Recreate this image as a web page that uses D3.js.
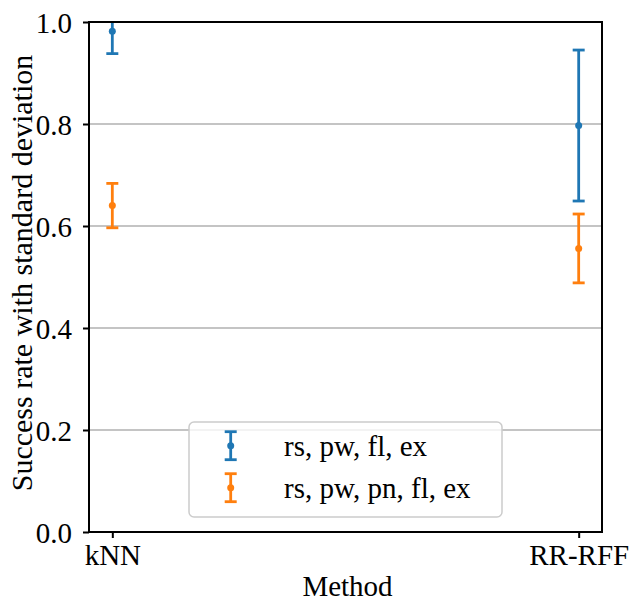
<!DOCTYPE html>
<html>
<head>
<meta charset="utf-8">
<script src="https://cdn.jsdelivr.net/npm/d3@7"></script>
<style>
  html, body { margin: 0; padding: 0; background: #fff; }
  svg { display: block; }
  text { font-family: "Liberation Serif", "Times New Roman", serif; fill: #000; }
</style>
</head>
<body>
<svg id="chart" width="631" height="601"></svg>
<script>
// ---- data ----
const methods = ["kNN", "RR-RFF"];
const seriesNames = ["rs, pw, fl, ex", "rs, pw, pn, fl, ex"];
const seriesColors = ["#1f77b4", "#ff7f0e"];
const meansA = [0.982, 0.797];
const stdsA = [0.044, 0.148];
const meansB = [0.640, 0.556];
const stdsB = [0.0435, 0.0675];
const yTicks = [0.0, 0.2, 0.4, 0.6, 0.8, 1.0];
const xLabel = "Method";
const yLabel = "Success rate with standard deviation";

const series = [
  { name: seriesNames[0], color: seriesColors[0], means: meansA, stds: stdsA },
  { name: seriesNames[1], color: seriesColors[1], means: meansB, stds: stdsB }
];

// ---- layout ----
const L = 89, R = 602, T = 22, B = 532;
const FS = 29;
const svg = d3.select("#chart");

const x = d3.scalePoint().domain(methods).range([L, R]).padding(0.05);
const y = d3.scaleLinear().domain([0, 1]).range([B, T]);

svg.append("defs").append("clipPath").attr("id", "clip")
  .append("rect").attr("x", L).attr("y", T).attr("width", R - L).attr("height", B - T);

// grid
svg.append("g").selectAll("line").data(yTicks).join("line")
  .attr("x1", L).attr("x2", R)
  .attr("y1", d => y(d)).attr("y2", d => y(d))
  .attr("stroke", "#b0b0b0").attr("stroke-width", 1.6);

// error bars
const plot = svg.append("g").attr("clip-path", "url(#clip)");
const capW = 6;
series.forEach(s => {
  const g = plot.append("g");
  methods.forEach((m, i) => {
    const cx = x(m);
    const lo = s.means[i] - s.stds[i];
    const hi = s.means[i] + s.stds[i];
    g.append("line").attr("x1", cx).attr("x2", cx)
      .attr("y1", y(lo)).attr("y2", y(hi))
      .attr("stroke", s.color).attr("stroke-width", 2.8);
    [lo, hi].forEach(v => {
      g.append("line").attr("x1", cx - capW).attr("x2", cx + capW)
        .attr("y1", y(v)).attr("y2", y(v))
        .attr("stroke", s.color).attr("stroke-width", 2.8);
    });
    g.append("circle").attr("cx", cx).attr("cy", y(s.means[i])).attr("r", 3.5)
      .attr("fill", s.color);
  });
});

// axes
const yAxis = d3.axisLeft(y).tickValues(yTicks).tickFormat(d3.format(".1f")).tickSize(6).tickPadding(6);
const gy = svg.append("g").attr("transform", `translate(${L},0)`).call(yAxis);
gy.select(".domain").remove();
gy.selectAll(".tick line").attr("stroke", "#000").attr("stroke-width", 2);
gy.selectAll(".tick text").attr("x", 72 - L).attr("dy", null).attr("y", 10)
  .style("font-size", FS + "px").style("font-family", "Liberation Serif").attr("text-anchor", "end");

const xAxis = d3.axisBottom(x).tickSize(6);
const gx = svg.append("g").attr("transform", `translate(0,${B})`).call(xAxis);
gx.select(".domain").remove();
gx.selectAll(".tick line").attr("stroke", "#000").attr("stroke-width", 2);
gx.selectAll(".tick text").attr("dy", null).attr("y", 565 - B)
  .style("font-size", FS + "px").style("font-family", "Liberation Serif");

// spines
svg.append("rect").attr("x", L).attr("y", T).attr("width", R - L).attr("height", B - T)
  .attr("fill", "none").attr("stroke", "#000").attr("stroke-width", 2);

// labels
svg.append("text").attr("x", (L + R) / 2 + 2).attr("y", 596).attr("text-anchor", "middle")
  .style("font-size", FS + "px").text(xLabel);
svg.append("text").attr("transform", `translate(32,${(T + B) / 2 - 4}) rotate(-90)`)
  .attr("text-anchor", "middle").style("font-size", "30px").text(yLabel);

// legend
const lg = svg.append("g");
lg.append("rect").attr("x", 189).attr("y", 422).attr("width", 313).attr("height", 95)
  .attr("rx", 5).attr("ry", 5)
  .attr("fill", "#fff").attr("fill-opacity", 0.8)
  .attr("stroke", "#cccccc").attr("stroke-width", 1.5);
const legY = [445.7, 487.7];
series.forEach((s, i) => {
  const cx = 230.7, cy = legY[i], h = 14;
  lg.append("line").attr("x1", cx).attr("x2", cx).attr("y1", cy - h).attr("y2", cy + h)
    .attr("stroke", s.color).attr("stroke-width", 2.8);
  [cy - h, cy + h].forEach(v => lg.append("line").attr("x1", cx - capW).attr("x2", cx + capW)
    .attr("y1", v).attr("y2", v).attr("stroke", s.color).attr("stroke-width", 2.8));
  lg.append("circle").attr("cx", cx).attr("cy", cy).attr("r", 3.5).attr("fill", s.color);
  lg.append("text").attr("x", 284).attr("y", cy + 10.5).style("font-size", FS + "px").text(s.name);
});
</script>
</body>
</html>
